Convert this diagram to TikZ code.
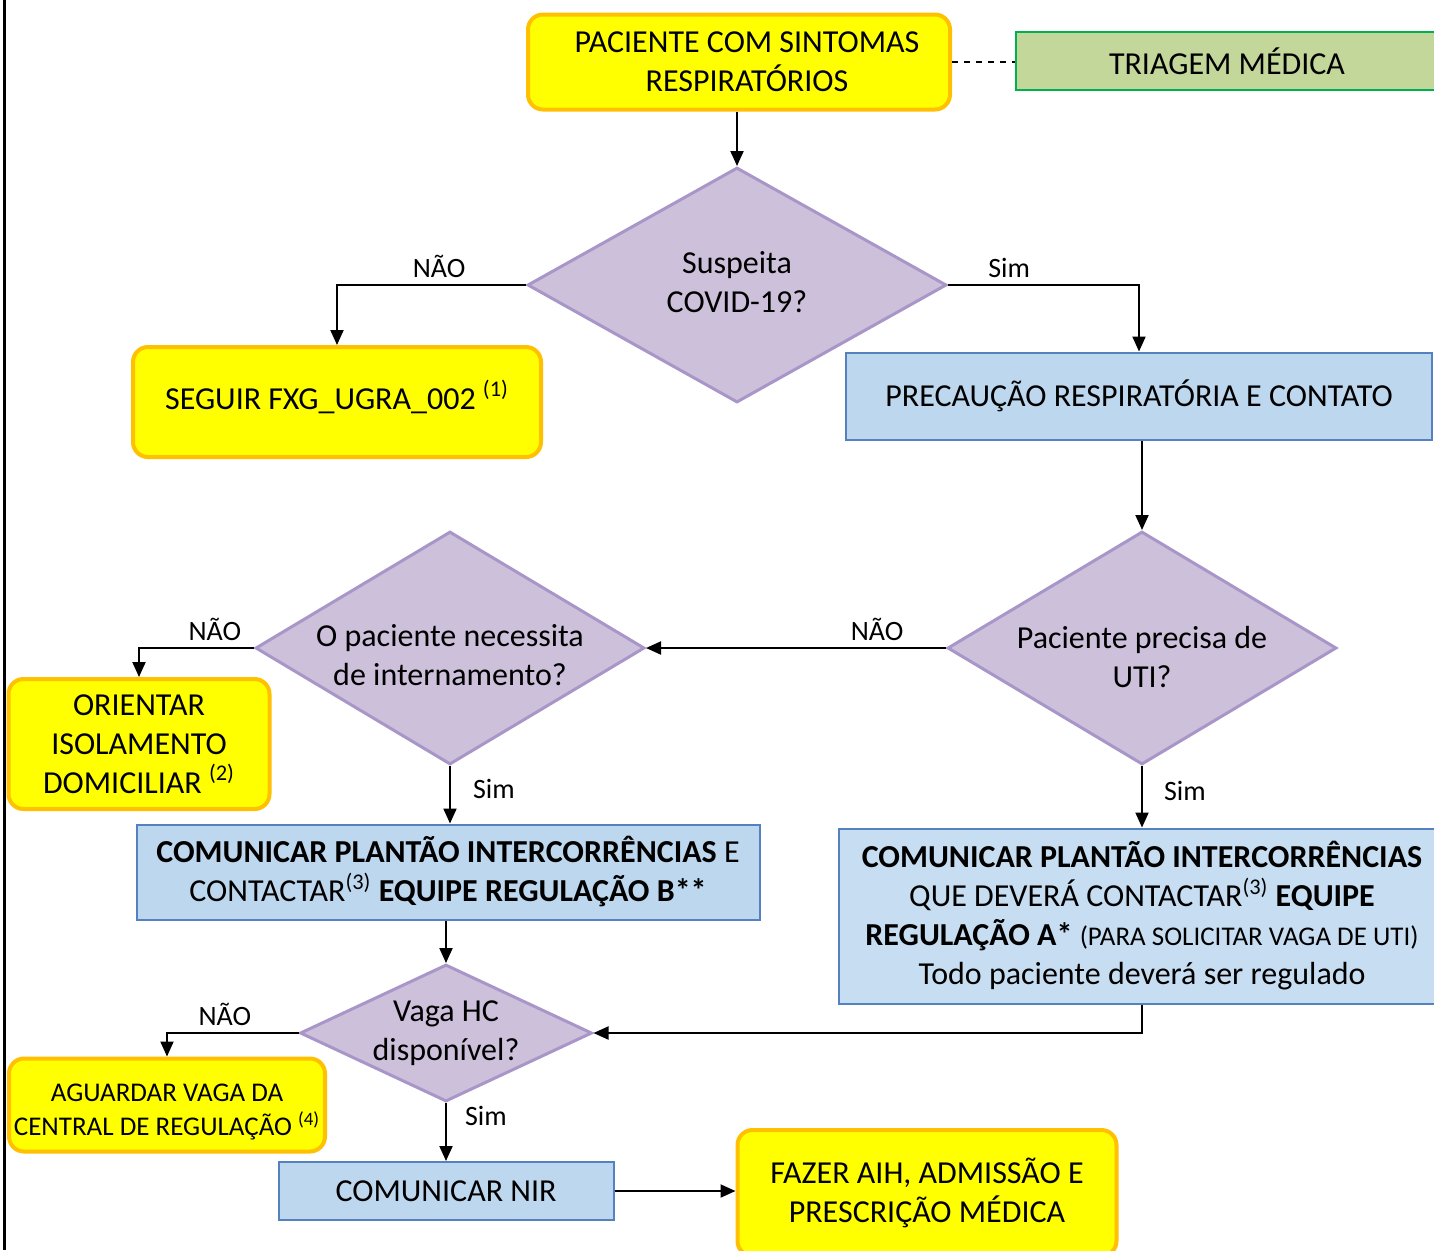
\documentclass[tikz,border=0pt]{standalone}
\usepackage{fontspec}
\setmainfont{Carlito}
\usepackage{xcolor}
\usepackage{tikz}
\usetikzlibrary{shapes.geometric}
\usetikzlibrary{arrows.meta}

\definecolor{amar}{RGB}{255,255,0}
\definecolor{amarb}{RGB}{255,192,0}
\definecolor{lil}{RGB}{204,192,218}
\definecolor{lilb}{RGB}{168,150,200}
\definecolor{azul}{RGB}{189,215,238}
\definecolor{azulb}{RGB}{84,130,190}
\definecolor{verde}{RGB}{196,215,155}
\definecolor{verdeb}{RGB}{0,176,80}

\newcommand{\dtxt}[2][0pt]{\raisebox{#1}[\height][\depth]{\makebox[0pt]{\begin{tabular}{@{}c@{}}#2\end{tabular}}}}

\begin{document}
\begin{tikzpicture}[x=0.5pt,y=-0.5pt,
	font=\fontsize{16}{19.5}\selectfont,
	amarelo/.style={draw=amarb,fill=amar,line width=2pt,rounded corners=7.5pt,align=center,inner sep=0pt},
	azulbox/.style={draw=azulb,fill=azul,line width=1pt,align=center,inner sep=0pt},
	losango/.style={diamond,draw=lilb,fill=lil,line width=1.5pt,inner sep=0pt,aspect=1.67},
	rot/.style={font=\fontsize{14}{17}\selectfont,inner sep=3pt},
	seta/.style={-{Triangle[length=7.5pt,width=6.5pt]},line width=1pt}]
\path[use as bounding box,clip] (0,0) rectangle (1434,1250);
\draw[line width=1.5pt] (4,0) -- (4,1250);

% topo
\node[amarelo,minimum width=211pt,minimum height=47.5pt] (P) at (739,62) {\hspace*{8pt}PACIENTE COM SINTOMAS\\\hspace*{8pt}RESPIRATÓRIOS};
\node[draw=verdeb,fill=verde,line width=1pt,minimum width=211pt,minimum height=29pt,inner sep=0pt] (T) at (1227,61) {TRIAGEM MÉDICA};
\draw[dashed,line width=0.8pt] (P.east) -- (P.east -| T.west);

\node[losango,minimum width=209.5pt,minimum height=117.5pt] (D1) at (737,285) {\dtxt{Suspeita\\COVID-19?}};
\draw[seta] (D1.north |- P.south) -- (D1.north);

\node[amarelo,minimum width=204pt,minimum height=55pt] (S) at (337,402) {\raisebox{2.5pt}[\height][\depth]{SEGUIR FXG\_UGRA\_002 \textsuperscript{(1)}}};
\node[azulbox,minimum width=293pt,minimum height=43.5pt] (PR) at (1139,396) {PRECAUÇÃO RESPIRATÓRIA E CONTATO};
\draw[seta] (D1.west) -| node[rot,pos=0.23,above]{NÃO} (S.north);
\draw[seta] (D1.east) -| node[rot,pos=0.16,above]{Sim} (PR.north);

% meio
\node[losango,minimum width=194.5pt,minimum height=116.5pt] (D2) at (1142,648) {\dtxt[-6pt]{Paciente precisa de\\UTI?}};
\node[losango,minimum width=194.5pt,minimum height=116.5pt] (D3) at (450,648) {\dtxt[-5pt]{O paciente necessita\\de internamento?}};
\draw[seta] (D2.north |- PR.south) -- (D2.north);
\draw[seta] (D2.west) -- node[rot,pos=0.23,above]{NÃO} (D3.east);

\node[amarelo,minimum width=130.5pt,minimum height=65pt] (O) at (139,744) {ORIENTAR\\ISOLAMENTO\\DOMICILIAR \textsuperscript{(2)}};
\draw[seta] (D3.west) -| node[rot,pos=0.17,above]{NÃO} (O.north);

\node[azulbox,minimum width=311.5pt,minimum height=47.5pt] (CB) at (448,872) {\textbf{COMUNICAR PLANTÃO INTERCORRÊNCIAS} E\\CONTACTAR\textsuperscript{(3)} \textbf{EQUIPE REGULAÇÃO B**}};
\node[azulbox,fill=azul!85!white,minimum width=303pt,minimum height=87.5pt] (CA) at (1142,916) {\textbf{COMUNICAR PLANTÃO INTERCORRÊNCIAS}\\QUE DEVERÁ CONTACTAR\textsuperscript{(3)} \textbf{EQUIPE}\\\textbf{REGULAÇÃO A*} {\fontsize{13.5}{19.5}\selectfont (PARA SOLICITAR VAGA DE UTI)}\\Todo paciente deverá ser regulado};
\draw[seta] (D3.south) -- node[rot,pos=0.4,right,xshift=8pt]{Sim} (D3.south |- CB.north);
\draw[seta] (D2.south) -- node[rot,pos=0.4,right,xshift=7.5pt]{Sim} (CA.north);

% baixo
\node[losango,minimum width=146pt,minimum height=68.5pt] (D4) at (446,1033) {\dtxt{Vaga HC\\disponível?}};
\draw[seta] (D4.north |- CB.south) -- (D4.north);
\draw[seta] (CA.south) |- (D4.east);

\node[amarelo,minimum width=158pt,minimum height=46.5pt,font=\fontsize{13.5}{16.5}\selectfont] (AG) at (167,1105) {\raisebox{-3.5pt}[\height][\depth]{\begin{tabular}{@{}c@{}}AGUARDAR VAGA DA\\CENTRAL DE REGULAÇÃO \textsuperscript{(4)}\end{tabular}}};
\draw[seta] (D4.west) -| node[rot,pos=0.28,above]{NÃO} (AG.north);

\node[azulbox,minimum width=167.5pt,minimum height=29pt] (NIR) at (446,1191) {COMUNICAR NIR};
\draw[seta] (D4.south) -- node[rot,pos=0.22,right,xshift=6pt]{Sim} (NIR.north);

\node[amarelo,minimum width=189.5pt,minimum height=63pt] (F) at (927,1193) {FAZER AIH, ADMISSÃO E\\PRESCRIÇÃO MÉDICA};
\draw[seta] (NIR.east) -- (NIR.east -| F.west);
\end{tikzpicture}
\end{document}
